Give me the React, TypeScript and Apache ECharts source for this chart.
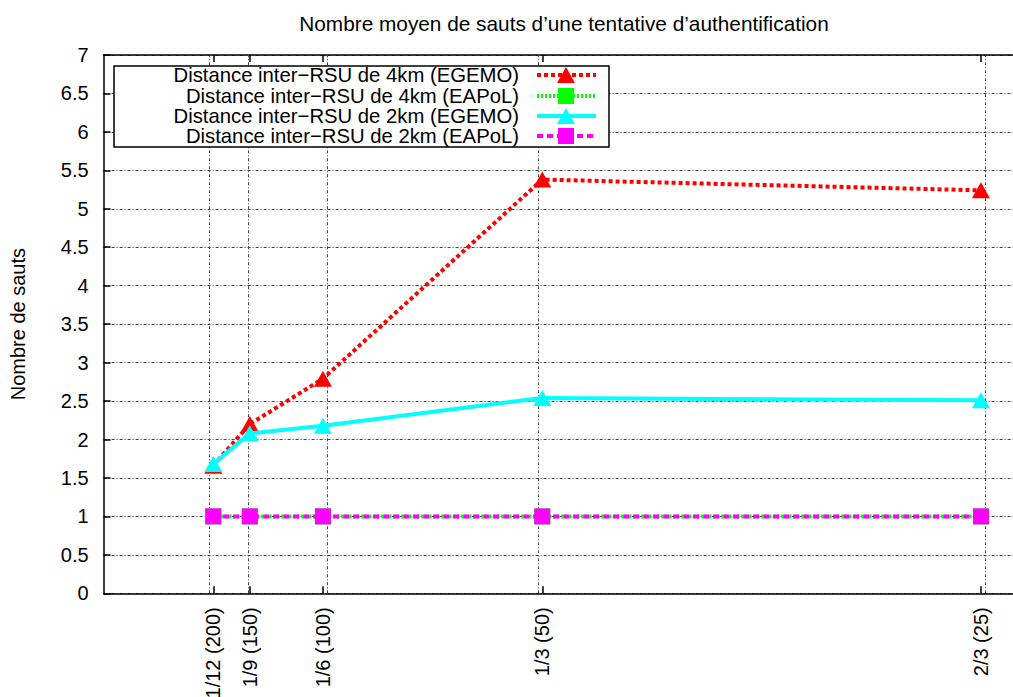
import React, { useEffect, useRef } from "react";
import * as echarts from "echarts";

const titleText = "Nombre moyen de sauts d’une tentative d’authentification";
const yAxisName = "Nombre de sauts";
const xTickValues = [1 / 12, 1 / 9, 1 / 6, 1 / 3, 2 / 3];
const xTickLabels = ["1/12 (200)", "1/9 (150)", "1/6 (100)", "1/3 (50)", "2/3 (25)"];
const seriesNames = [
  "Distance inter−RSU de 4km (EGEMO)",
  "Distance inter−RSU de 4km (EAPoL)",
  "Distance inter−RSU de 2km (EGEMO)",
  "Distance inter−RSU de 2km (EAPoL)",
];
const egemo4km = [1.66, 2.2, 2.79, 5.38, 5.24];
const eapol4km = [1, 1, 1, 1, 1];
const egemo2km = [1.68, 2.08, 2.18, 2.54, 2.51];
const eapol2km = [1, 1, 1, 1, 1];

const FONT = '"Liberation Sans", Arial, Helvetica, sans-serif';
const FS = 20;

const styles = [
  { color: "#ff0000", dash: [4, 3] as any, symbol: "triangle", size: [18, 16] },
  { color: "#00ff00", dash: [2, 2] as any, symbol: "rect", size: 16 },
  { color: "#00ffff", dash: "solid" as any, symbol: "triangle", size: [18, 16] },
  { color: "#ff00ff", dash: [6, 4] as any, symbol: "rect", size: 16 },
];

export default function App() {
  const ref = useRef<HTMLDivElement>(null);
  useEffect(() => {
    if (!ref.current) return;
    const chart = echarts.init(ref.current, null, { renderer: "svg" });
    const values = [egemo4km, eapol4km, egemo2km, eapol2km];
    const gridDash = [3, 2, 1, 2];
    const labelFor = (v: number) => {
      let best = 0;
      for (let i = 0; i < xTickValues.length; i++) {
        if (Math.abs(xTickValues[i] - v) < Math.abs(xTickValues[best] - v)) best = i;
      }
      return xTickLabels[best];
    };
    const series: any[] = values.map((vals, i) => ({
      name: seriesNames[i],
      type: "line",
      data: vals.map((v, j) => [xTickValues[j], v]),
      symbol: styles[i].symbol,
      symbolSize: styles[i].size,
      lineStyle: { color: styles[i].color, width: 4, type: styles[i].dash },
      itemStyle: { color: styles[i].color },
      z: 10 + i,
    }));
    series.push({
      type: "line",
      data: [],
      silent: true,
      z: 1,
      markLine: {
        silent: true,
        symbol: "none",
        label: { show: false },
        lineStyle: { color: "#444", width: 1, type: gridDash },
        data: xTickValues.map((v) => ({ xAxis: v })),
      },
    });

    const rows = [75, 96, 116, 136];
    const legendEls: any[] = [
      {
        type: "rect",
        shape: { x: 114, y: 66, width: 495, height: 81 },
        style: { fill: "#fff", stroke: "#000", lineWidth: 1.5 },
        z: 100,
      },
    ];
    rows.forEach((y, i) => {
      legendEls.push({
        type: "text",
        x: 519,
        y,
        style: {
          text: seriesNames[i],
          font: `20.3px ${FONT}`,
          fill: "#000",
          align: "right",
          verticalAlign: "middle",
          textAlign: "right",
          textVerticalAlign: "middle",
        },
        z: 101,
      });
      legendEls.push({
        type: "line",
        shape: { x1: 537, y1: y, x2: 596, y2: y },
        style: {
          stroke: styles[i].color,
          lineWidth: 4,
          lineDash: styles[i].dash === "solid" ? null : styles[i].dash,
        },
        z: 101,
      });
      if (styles[i].symbol === "triangle") {
        legendEls.push({
          type: "polygon",
          shape: { points: [[566, y - 8], [575, y + 8], [557, y + 8]] },
          style: { fill: styles[i].color },
          z: 102,
        });
      } else {
        legendEls.push({
          type: "rect",
          shape: { x: 558, y: y - 8, width: 16, height: 16 },
          style: { fill: styles[i].color },
          z: 102,
        });
      }
    });

    chart.setOption({
      animation: false,
      backgroundColor: "#fff",
      textStyle: { fontFamily: FONT },
      title: {
        text: titleText,
        left: 559,
        textAlign: "center",
        top: 8,
        textStyle: { fontSize: 20.8, fontWeight: "normal", color: "#000", fontFamily: FONT },
      },
      grid: {
        left: 103.6,
        right: -11.8,
        top: 55,
        bottom: 103.7,
        containLabel: false,
        outerBoundsMode: "none",
      },
      xAxis: [
        {
          type: "value",
          min: 0,
          max: 0.7,
          position: "bottom",
          axisLine: { lineStyle: { color: "#000", width: 1.5 } },
          axisTick: { inside: true, length: 7, customValues: xTickValues, lineStyle: { color: "#000", width: 1.5 } },
          axisLabel: {
            customValues: xTickValues,
            rotate: 90,
            margin: 14,
            fontSize: FS,
            color: "#000",
            fontFamily: FONT,
            formatter: (v: number) => labelFor(v),
          },
          splitLine: { show: false },
        },
        {
          type: "value",
          min: 0,
          max: 0.7,
          position: "top",
          axisLine: { lineStyle: { color: "#000", width: 1.5 } },
          axisTick: { inside: true, length: 7, customValues: xTickValues, lineStyle: { color: "#000", width: 1.5 } },
          axisLabel: { show: false },
          splitLine: { show: false },
        },
      ],
      yAxis: {
        type: "value",
        min: 0,
        max: 7,
        interval: 0.5,
        name: yAxisName,
        nameLocation: "middle",
        nameGap: 76,
        nameTextStyle: { fontSize: FS, color: "#000", fontFamily: FONT },
        axisLine: { show: true, lineStyle: { color: "#000", width: 1.5 } },
        axisTick: { show: true, inside: true, length: 7, lineStyle: { color: "#000", width: 1.5 } },
        axisLabel: { fontSize: FS, color: "#000", margin: 15, fontFamily: FONT },
        splitLine: { show: true, lineStyle: { color: "#444", width: 1, type: gridDash } },
      },
      series,
      graphic: legendEls,
    });
    return () => chart.dispose();
  }, []);
  return (
    <div
      ref={ref}
      style={{ position: "fixed", left: 0, top: 0, width: 1013, height: 697, background: "#fff" }}
    />
  );
}
